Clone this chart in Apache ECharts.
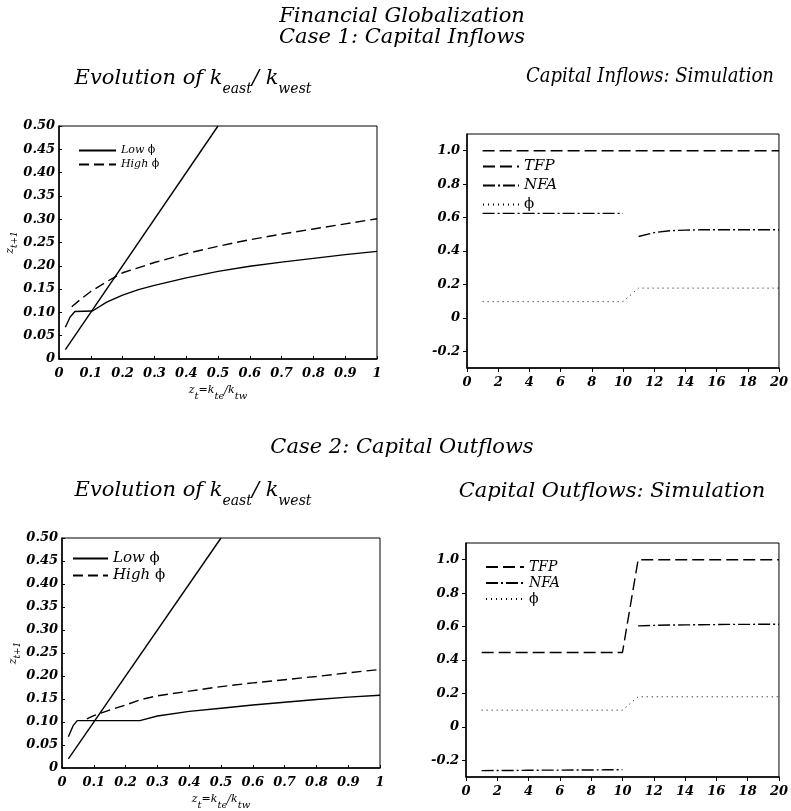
<!DOCTYPE html>
<html>
<head>
<meta charset="utf-8">
<script src="https://cdn.jsdelivr.net/npm/echarts@6/dist/echarts.min.js"></script>
<style>
  html, body { margin: 0; padding: 0; background: #fff; }
  #chart { width: 791px; height: 811px; }
</style>
</head>
<body>
<div id="chart"></div>
<script>
const serif = 'DejaVu Serif';

// Case 1, evolution of z = k_east / k_west
const lowInX = [0.02, 0.035, 0.05, 0.105, 0.15, 0.2, 0.25, 0.3, 0.4, 0.5, 0.6, 0.7, 0.8, 0.9, 1.0];
const lowInY = [0.068, 0.090, 0.102, 0.103, 0.122, 0.137, 0.149, 0.158, 0.174, 0.188, 0.199, 0.208, 0.216, 0.224, 0.231];
const highInX = [0.04, 0.066, 0.1, 0.15, 0.2, 0.3, 0.4, 0.5, 0.6, 0.7, 0.8, 0.9, 1.0];
const highInY = [0.112, 0.127, 0.145, 0.166, 0.185, 0.207, 0.226, 0.242, 0.256, 0.268, 0.279, 0.29, 0.301];

// Case 2, evolution of z
const lowOutX = [0.02, 0.035, 0.048, 0.245, 0.3, 0.4, 0.5, 0.6, 0.7, 0.8, 0.9, 1.0];
const lowOutY = [0.068, 0.092, 0.103, 0.103, 0.113, 0.123, 0.130, 0.137, 0.143, 0.149, 0.154, 0.158];
const highOutX = [0.078, 0.1, 0.15, 0.2, 0.25, 0.3, 0.4, 0.5, 0.6, 0.7, 0.8, 0.9, 1.0];
const highOutY = [0.107, 0.114, 0.126, 0.137, 0.149, 0.157, 0.167, 0.177, 0.185, 0.192, 0.199, 0.207, 0.214];

// 45 degree line
const diagX = [0.02, 0.5];
const diagY = [0.02, 0.5];

// simulations, t = 1..20
const periods = [1, 2, 3, 4, 5, 6, 7, 8, 9, 10, 11, 12, 13, 14, 15, 16, 17, 18, 19, 20];
const periodsPre = periods.slice(0, 10);
const periodsPost = periods.slice(10);

const tfpIn = [1, 1, 1, 1, 1, 1, 1, 1, 1, 1, 1, 1, 1, 1, 1, 1, 1, 1, 1, 1];
const phiIn = [0.097, 0.097, 0.097, 0.097, 0.097, 0.097, 0.097, 0.097, 0.097, 0.097,
               0.178, 0.178, 0.178, 0.178, 0.178, 0.178, 0.178, 0.178, 0.178, 0.178];
const nfaInPre = [0.625, 0.625, 0.625, 0.625, 0.625, 0.625, 0.625, 0.625, 0.625, 0.625];
const nfaInPost = [0.487, 0.510, 0.521, 0.525, 0.527, 0.527, 0.527, 0.527, 0.527, 0.527];

const tfpOut = [0.445, 0.445, 0.445, 0.445, 0.445, 0.445, 0.445, 0.445, 0.445, 0.445,
                1, 1, 1, 1, 1, 1, 1, 1, 1, 1];
const phiOut = [0.1, 0.1, 0.1, 0.1, 0.1, 0.1, 0.1, 0.1, 0.1, 0.1,
                0.18, 0.18, 0.18, 0.18, 0.18, 0.18, 0.18, 0.18, 0.18, 0.18];
const nfaOutPre = [-0.262, -0.261, -0.261, -0.260, -0.259, -0.259, -0.258, -0.258, -0.257, -0.256];
const nfaOutPost = [0.604, 0.607, 0.609, 0.610, 0.611, 0.612, 0.613, 0.613, 0.614, 0.614];

const simTicks = [-0.2, 0, 0.2, 0.4, 0.6, 0.8, 1.0];

function pairs(xs, ys) { return xs.map((x, i) => [x, ys[i]]); }

const DASH = [10, 5];
const DASH_SIM = [12, 5];
const DASH_DOT = [12, 3, 2, 3];
const DOT = [1, 4];

function line(name, xi, data, type, width) {
  return {
    name: name, type: 'line', xAxisIndex: xi, yAxisIndex: xi,
    data: data, symbol: 'none', silent: true,
    itemStyle: { color: '#000' },
    lineStyle: { color: '#000', width: width || 1.4, type: type }
  };
}

const tickFont = { fontFamily: serif, fontStyle: 'italic', fontWeight: 'bold', fontSize: 13, color: '#000' };
const axisLine = { show: true, onZero: false, lineStyle: { color: '#000', width: 1.5 } };

function evoX(gi) {
  return {
    type: 'value', gridIndex: gi, min: 0, max: 1, interval: 0.1,
    axisLine: axisLine, splitLine: { show: false },
    axisTick: { inside: true, length: 3, lineStyle: { color: '#000' } },
    axisLabel: Object.assign({ margin: 8, formatter: v => (v === 0 || v === 1) ? String(v) : v.toFixed(1) }, tickFont),
    name: '{i|z}{s|t}{i|=k}{s|te}{i|/k}{s|tw}', nameLocation: 'middle', nameGap: 26,
    nameTextStyle: {
      rich: {
        i: { fontFamily: serif, fontStyle: 'italic', fontSize: 11, lineHeight: 12, verticalAlign: 'top' },
        s: { fontFamily: serif, fontStyle: 'italic', fontSize: 10, lineHeight: 10, padding: [6, 0, 0, 0], verticalAlign: 'top' }
      }
    }
  };
}
function evoY(gi) {
  return {
    type: 'value', gridIndex: gi, min: 0, max: 0.5, interval: 0.05,
    axisLine: axisLine, splitLine: { show: false },
    axisTick: { inside: true, length: 3, lineStyle: { color: '#000' } },
    axisLabel: Object.assign({ margin: 4, formatter: v => v === 0 ? '0' : v.toFixed(2) }, tickFont),
    name: '{i|z}{s|t+1}', nameLocation: 'middle', nameGap: 42, nameRotate: 90,
    nameTextStyle: {
      rich: {
        i: { fontFamily: serif, fontStyle: 'italic', fontSize: 11, lineHeight: 12, verticalAlign: 'top' },
        s: { fontFamily: serif, fontStyle: 'italic', fontSize: 9, lineHeight: 9, padding: [6, 0, 0, 0], verticalAlign: 'top' }
      }
    }
  };
}
function simX(gi) {
  return {
    type: 'value', gridIndex: gi, min: 0, max: 20, interval: 2,
    axisLine: axisLine, splitLine: { show: false },
    axisTick: { length: 4, lineStyle: { color: '#000' } },
    axisLabel: Object.assign({ margin: 8 }, tickFont)
  };
}
function simY(gi) {
  return {
    type: 'value', gridIndex: gi, min: -0.3, max: 1.1,
    axisLine: axisLine, splitLine: { show: false },
    axisTick: { length: 4, customValues: simTicks, lineStyle: { color: '#000' } },
    axisLabel: Object.assign({ margin: 7, customValues: simTicks, formatter: v => v === 0 ? '0' : v.toFixed(1) }, tickFont)
  };
}

function legend(names, left, top, w, h, gap, size) {
  return {
    data: names, orient: 'vertical', left: left, top: top, padding: 0,
    itemWidth: w, itemHeight: h, itemGap: gap, selectedMode: false,
    itemStyle: { color: 'rgba(0,0,0,0)', borderWidth: 0, opacity: 0 },
    formatter: n => n.replace('ϕ', '{p|ϕ}'),
    textStyle: { fontFamily: serif, fontStyle: 'italic', fontSize: size, color: '#000',
      rich: { p: { fontFamily: serif, fontStyle: 'normal', fontSize: size } } }
  };
}

function text(str, x, y, size, sx) {
  return { type: 'text', x: x, y: y, scaleX: sx || 1, silent: true,
    style: { text: str, align: 'center', verticalAlign: 'middle', fontFamily: serif, fontStyle: 'italic', fontSize: size, fill: '#000' } };
}
function kTitle(x, y) {
  return { type: 'text', x: x, y: y, silent: true,
    style: {
      text: '{m|Evolution of k}{s|east}{m|/ k}{s|west}', align: 'center', verticalAlign: 'top', fill: '#000',
      rich: {
        m: { fontFamily: serif, fontStyle: 'italic', fontSize: 21, lineHeight: 24, verticalAlign: 'top' },
        s: { fontFamily: serif, fontStyle: 'italic', fontSize: 14, lineHeight: 14, padding: [14, 0, 0, 0], verticalAlign: 'top' }
      }
    } };
}

const chart = echarts.init(document.getElementById('chart'));
chart.setOption({
  animation: false,
  backgroundColor: '#fff',
  grid: [
    { left: 59, top: 126, width: 318, height: 233, show: true, borderColor: '#000', borderWidth: 1 },
    { left: 467, top: 134, width: 318, height: 234, show: true, borderColor: '#000', borderWidth: 1 },
    { left: 62, top: 538, width: 318, height: 234, show: true, borderColor: '#000', borderWidth: 1 },
    { left: 466, top: 543, width: 318, height: 234, show: true, borderColor: '#000', borderWidth: 1 }
  ],
  xAxis: [evoX(0), simX(1), evoX(2), simX(3)],
  yAxis: [evoY(0), simY(1), evoY(2), simY(3)],
  legend: [
    legend(['Low ϕ', 'High ϕ'], 78, 145, 37, 10, 3, 11),
    legend(['TFP', 'NFA', 'ϕ'], 482, 159, 36, 12, 4, 15),
    legend(['Low ϕ', 'High ϕ'], 72, 551, 35, 10, 2, 15),
    legend(['TFP', 'NFA', 'ϕ'], 485, 560, 38, 10, 2, 14)
  ],
  graphic: [
    text('Financial Globalization', 402, 17, 21),
    text('Case 1: Capital Inflows', 402, 38, 21),
    kTitle(193, 68),
    text('Capital Inflows: Simulation', 650, 77, 20, 0.9),
    text('Case 2: Capital Outflows', 402, 448, 21),
    kTitle(193, 480),
    text('Capital Outflows: Simulation', 612, 492, 21, 1)
  ],
  series: [
    line('45', 0, pairs(diagX, diagY), 'solid'),
    line('Low ϕ', 0, pairs(lowInX, lowInY), 'solid'),
    line('High ϕ', 0, pairs(highInX, highInY), DASH),

    line('TFP', 1, pairs(periods, tfpIn), DASH_SIM),
    line('NFA', 1, pairs(periodsPre, nfaInPre), DASH_DOT),
    line('NFA', 1, pairs(periodsPost, nfaInPost), DASH_DOT),
    line('ϕ', 1, pairs(periods, phiIn), DOT, 1),

    line('45', 2, pairs(diagX, diagY), 'solid'),
    line('Low ϕ', 2, pairs(lowOutX, lowOutY), 'solid'),
    line('High ϕ', 2, pairs(highOutX, highOutY), DASH),

    line('TFP', 3, pairs(periods, tfpOut), DASH_SIM),
    line('NFA', 3, pairs(periodsPre, nfaOutPre), DASH_DOT),
    line('NFA', 3, pairs(periodsPost, nfaOutPost), DASH_DOT),
    line('ϕ', 3, pairs(periods, phiOut), DOT, 1)
  ]
});
</script>
</body>
</html>
